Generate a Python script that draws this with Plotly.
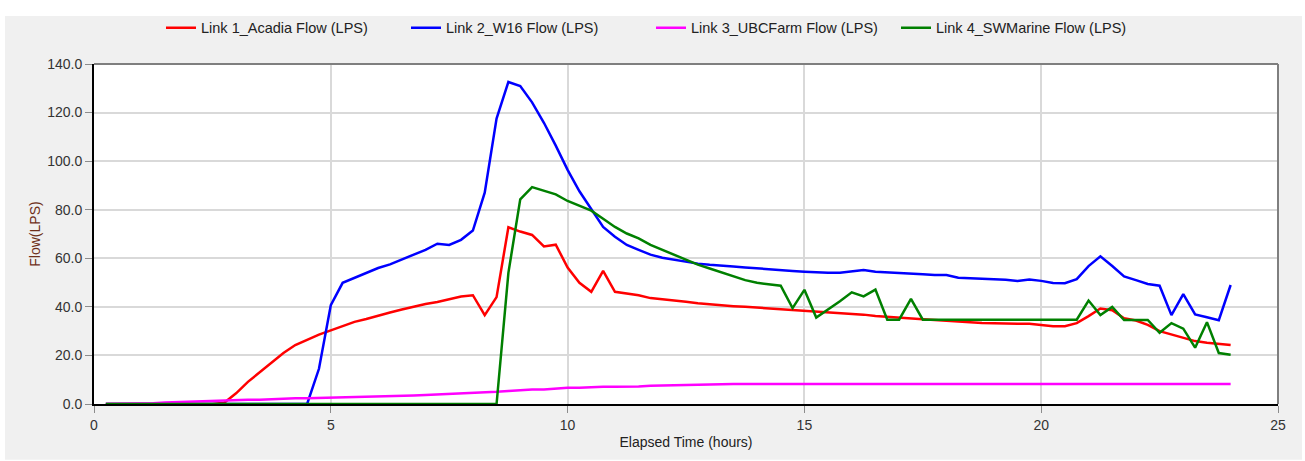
import plotly.graph_objects as go

hours = [0.25, 0.5, 0.75, 1.0, 1.25, 1.5, 1.75, 2.0, 2.25, 2.5, 2.75, 3.0,
         3.25, 3.5, 3.75, 4.0, 4.25, 4.5, 4.75, 5.0, 5.25, 5.5, 5.75, 6.0,
         6.25, 6.5, 6.75, 7.0, 7.25, 7.5, 7.75, 8.0, 8.25, 8.5, 8.75, 9.0,
         9.25, 9.5, 9.75, 10.0, 10.25, 10.5, 10.75, 11.0, 11.25, 11.5, 11.75, 12.0,
         12.25, 12.5, 12.75, 13.0, 13.25, 13.5, 13.75, 14.0, 14.25, 14.5, 14.75, 15.0,
         15.25, 15.5, 15.75, 16.0, 16.25, 16.5, 16.75, 17.0, 17.25, 17.5, 17.75, 18.0,
         18.25, 18.5, 18.75, 19.0, 19.25, 19.5, 19.75, 20.0, 20.25, 20.5, 20.75, 21.0,
         21.25, 21.5, 21.75, 22.0, 22.25, 22.5, 22.75, 23.0, 23.25, 23.5, 23.75, 24.0]

acadia = [0, 0, 0, 0, 0, 0, 0, 0, 0, 0, 0.5, 4.4,
          9.1, 13.2, 17.2, 21.0, 24.3, 26.6, 28.6, 30.3, 32.2, 33.8, 35.0, 36.5,
          37.7, 38.9, 40.1, 41.2, 42.0, 43.3, 44.3, 44.8, 36.6, 44.0, 72.8, 71.0,
          69.6, 64.9, 65.6, 56.2, 49.9, 46.2, 54.8, 46.2, 45.5, 44.8, 43.6, 43.2,
          42.6, 42.1, 41.5, 41.0, 40.5, 40.3, 40.0, 39.7, 39.4, 39.0, 38.8, 38.6,
          38.2, 37.7, 37.5, 37.3, 36.8, 36.2, 35.8, 35.4, 35.1, 34.9, 34.6, 34.2,
          34.0, 33.7, 33.4, 33.2, 33.1, 33.0, 33.0, 32.5, 32.0, 32.0, 33.3, 36.2,
          39.3, 38.6, 35.3, 34.4, 32.6, 30.0, 28.6, 27.0, 25.9, 25.2, 24.8, 24.3]

w16 = [0, 0, 0, 0, 0, 0, 0, 0, 0, 0, 0, 0,
       0, 0, 0, 0, 0, 0, 14.5, 40.7, 49.9, 52.0, 54.0, 56.0,
       57.5, 59.5, 61.5, 63.5, 66.0, 65.5, 67.6, 71.4, 87.0, 117.5, 132.6, 130.9,
       124.2, 115.8, 106.4, 96.4, 87.6, 80.0, 72.9, 68.9, 65.5, 63.5, 61.5, 60.2,
       59.3, 58.5, 57.8, 57.3, 56.8, 56.6, 56.2, 55.8, 55.4, 55.0, 54.8, 54.5,
       54.2, 54.0, 54.0, 54.6, 55.2, 54.5, 54.3, 54.1, 53.6, 53.4, 53.1, 53.1,
       52.0, 51.8, 51.6, 51.4, 51.2, 50.6, 51.3, 50.7, 49.8, 49.7, 51.4, 56.8,
       60.8, 56.8, 52.5, 51.0, 49.4, 48.7, 36.6, 45.2, 36.9, 35.7, 34.5, 49.0]

ubcfarm = [0, 0, 0, 0, 0.3, 0.6, 0.8, 1.0, 1.1, 1.3, 1.5, 1.7,
           1.7, 1.8, 2.1, 2.4, 2.4, 2.4, 2.5, 2.6, 2.7, 2.8, 3.0, 3.2,
           3.3, 3.3, 3.5, 3.7, 3.9, 4.1, 4.3, 4.6, 4.8, 5.0, 5.4, 5.8,
           6.0, 6.0, 6.5, 6.7, 6.7, 7.0, 7.1, 7.1, 7.1, 7.2, 7.5, 7.6,
           7.6, 7.7, 8.1, 8.2, 8.2, 8.2, 8.2, 8.2, 8.2, 8.2, 8.2, 8.2,
           8.2, 8.2, 8.2, 8.2, 8.2, 8.2, 8.2, 8.2, 8.2, 8.2, 8.2, 8.2,
           8.2, 8.2, 8.2, 8.2, 8.2, 8.2, 8.2, 8.2, 8.2, 8.2, 8.2, 8.2,
           8.2, 8.2, 8.2, 8.2, 8.2, 8.2, 8.2, 8.2, 8.2, 8.2, 8.2, 8.2]

swmarine = [0, 0, 0, 0, 0, 0, 0, 0, 0, 0, 0, 0,
            0, 0, 0, 0, 0, 0, 0, 0, 0, 0, 0, 0,
            0, 0, 0, 0, 0, 0, 0, 0, 0, 0, 54.0, 84.3,
            89.3, 87.9, 86.3, 83.6, 81.6, 79.6, 76.3, 72.9, 70.2, 68.2, 65.5, 63.5,
            61.5, 59.5, 57.4, 55.8, 54.2, 52.6, 51.0, 49.9, 49.3, 48.7, 39.5, 47.0,
            35.6, 38.8, 42.3, 46.0, 44.3, 47.1, 34.7, 34.7, 43.3, 34.7, 34.7, 34.7,
            34.7, 34.7, 34.7, 34.7, 34.7, 34.7, 34.7, 34.7, 34.7, 34.7, 34.7, 42.6,
            36.6, 40.0, 34.6, 34.6, 34.6, 29.3, 33.3, 31.0, 23.2, 33.7, 21.0, 20.3]

series_names = ["Link 1_Acadia Flow (LPS)", "Link 2_W16 Flow (LPS)",
                "Link 3_UBCFarm Flow (LPS)", "Link 4_SWMarine Flow (LPS)"]
series_values = [acadia, w16, ubcfarm, swmarine]
series_colors = ["#ff0000", "#0000ff", "#ff00ff", "#008000"]

x_ticks = [0, 5, 10, 15, 20, 25]
y_ticks = [0, 20, 40, 60, 80, 100, 120, 140]

for s in series_values:
    assert len(s) == len(hours), len(s)

FONT = "Liberation Sans, Arial, sans-serif"
W, H = 1305, 461
ML, MR, MT, MB = 94, 27, 57, 57
PW = W - ML - MR
PH = H - MT - MB


def px_to_paper_x(px):
    return (px - ML) / PW


def px_to_paper_y(py):
    return (H - MB - py) / PH


fig = go.Figure()
for name, vals, col in zip(series_names, series_values, series_colors):
    fig.add_trace(go.Scatter(x=hours, y=vals, mode="lines", name=name,
                             line=dict(color=col, width=2.5)))

shapes = [
    # grey panel behind everything
    dict(type="rect", xref="paper", yref="paper", layer="below",
         x0=px_to_paper_x(5), x1=px_to_paper_x(1302),
         y0=px_to_paper_y(H), y1=px_to_paper_y(8),
         fillcolor="#f0f0f0", line=dict(width=0)),
    # white plot area
    dict(type="rect", xref="paper", yref="paper", layer="below",
         x0=0, x1=1, y0=0, y1=1, fillcolor="#ffffff", line=dict(width=0)),
    # top and right frame (grey)
    dict(type="line", xref="paper", yref="paper", x0=0, x1=1, y0=1, y1=1,
         line=dict(color="#7f7f7f", width=2)),
    dict(type="line", xref="paper", yref="paper", x0=1, x1=1, y0=0, y1=1,
         line=dict(color="#7f7f7f", width=2)),
]

fig.update_layout(
    width=W, height=H,
    margin=dict(l=ML, r=MR, t=MT, b=MB),
    paper_bgcolor="#ffffff",
    plot_bgcolor="rgba(0,0,0,0)",
    font=dict(family=FONT, size=14, color="#333333"),
    shapes=shapes,
    showlegend=True,
    legend=dict(orientation="h", x=px_to_paper_x(161), xanchor="left",
                y=px_to_paper_y(20), yanchor="middle",
                bgcolor="rgba(0,0,0,0)", entrywidth=200,
                font=dict(family=FONT, size=14.5, color="#222222")),
    xaxis=dict(range=[0, 25], tickvals=x_ticks, ticktext=[str(v) for v in x_ticks],
               showgrid=True, gridcolor="#d9d9d9", gridwidth=1.5,
               showline=True, linecolor="#000000", linewidth=2,
               ticks="outside", ticklen=7, tickcolor="#8c8c8c", tickwidth=1,
               zeroline=False, layer="below traces",
               title=dict(text="Elapsed Time (hours)", standoff=5,
                          font=dict(family=FONT, size=14, color="#222222"))),
    yaxis=dict(range=[0, 140], tickvals=y_ticks, ticktext=[f"{v:.1f}" for v in y_ticks],
               showgrid=True, gridcolor="#d9d9d9", gridwidth=1.5,
               showline=True, linecolor="#000000", linewidth=2,
               ticks="outside", ticklen=7, tickcolor="#8c8c8c", tickwidth=1,
               zeroline=False, layer="below traces",
               title=dict(text="Flow(LPS)", standoff=3,
                          font=dict(family=FONT, size=14, color="#6e2f1a"))),
)

fig.write_html("out.html")
